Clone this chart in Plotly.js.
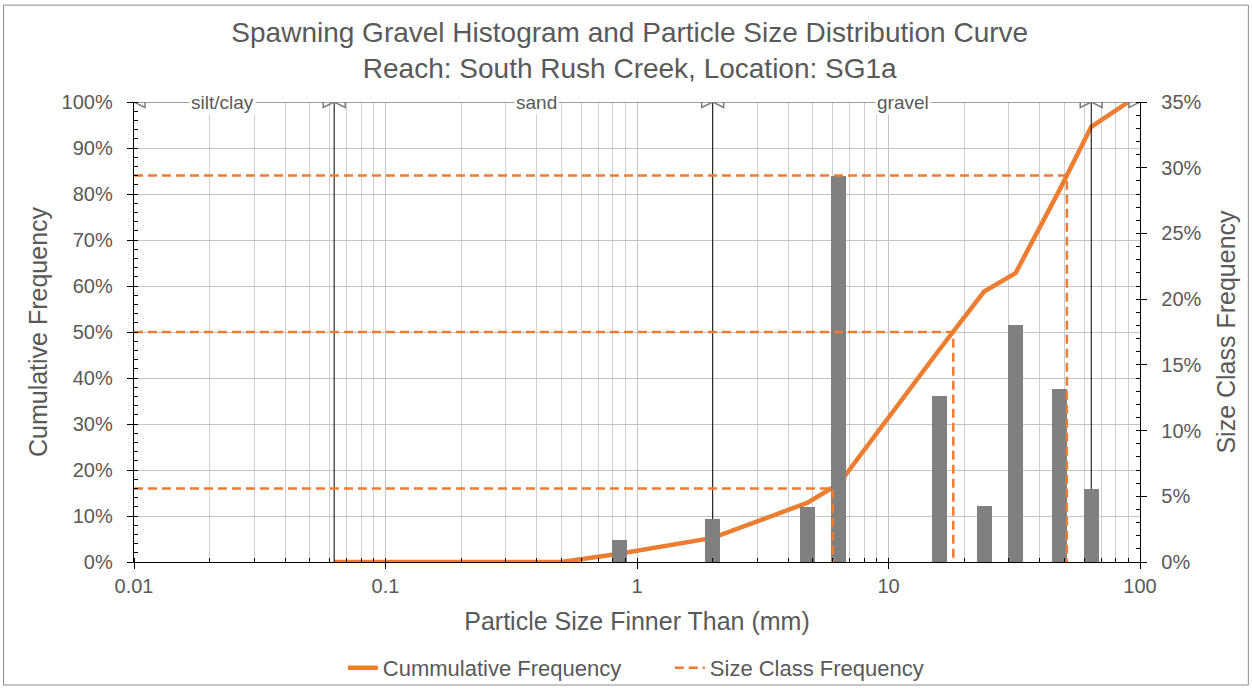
<!DOCTYPE html>
<html>
<head>
<meta charset="utf-8">
<script src="https://cdn.plot.ly/plotly-3.0.1.min.js"></script>
<style>
  html, body { margin: 0; padding: 0; background: #fff; }
  #chart { width: 1252px; height: 689px; }
</style>
</head>
<body>
<div id="chart"></div>
<script>
// ---- data ----
const CUM_SIZE = [0.0625, 0.5, 0.85, 2, 4.75, 6.35, 16, 24, 32, 48, 64, 90];
const CUM_PCT  = [0, 0, 1.8, 5.25, 12.85, 17, 46.3, 58.8, 62.8, 81, 94.6, 100];

const BAR_SIZE = [0.85, 2, 4.75, 6.35, 16, 24, 32, 48, 64];
const BAR_PCT  = [1.66, 3.28, 4.22, 29.37, 12.65, 4.24, 18.07, 13.16, 5.56];

const D_PCT  = [16, 50, 84];
const D_SIZE = [6.0, 18.1, 51.2];

const CLASS_BOUNDS = [0.01, 0.0625, 2, 64, 100];
const CLASS_LABELS = ['silt/clay', 'sand', 'gravel'];
const CLASS_LABEL_POS = [0.0225, 0.40, 11.4];

const X_TICKS = [0.01, 0.1, 1, 10, 100];
const X_TICK_TEXT = ['0.01', '0.1', '1', '10', '100'];

// ---- styles ----
const ORANGE = '#ED7D31';
const TXT = '#595959';
const FONT = 'Liberation Sans, Arial, sans-serif';

const traces = [];

// cumulative curve (main subplot, under bars)
traces.push({
  x: CUM_SIZE, y: CUM_PCT, type: 'scatter', mode: 'lines',
  name: 'Cummulative Frequency',
  line: { color: ORANGE, width: 4.5 },
  xaxis: 'x', yaxis: 'y', hoverinfo: 'x+y'
});

// class boundary lines (black)
[CLASS_BOUNDS[1], CLASS_BOUNDS[2], CLASS_BOUNDS[3]].forEach(b => {
  traces.push({
    x: [b, b], y: [0, 100], type: 'scatter', mode: 'lines',
    line: { color: '#000', width: 1 }, showlegend: false, hoverinfo: 'skip',
    xaxis: 'x', yaxis: 'y'
  });
});

// class arrows at top
for (let i = 0; i < CLASS_BOUNDS.length - 1; i++) {
  traces.push({
    x: [CLASS_BOUNDS[i], CLASS_BOUNDS[i + 1]], y: [100, 100],
    type: 'scatter', mode: 'lines+markers', cliponaxis: true,
    line: { color: '#7f7f7f', width: 1.5 },
    marker: { symbol: ['arrow-left-open', 'arrow-right-open'], size: 11,
              color: '#7f7f7f', line: { color: '#7f7f7f', width: 1.5 } },
    showlegend: false, hoverinfo: 'skip', xaxis: 'x', yaxis: 'y'
  });
}

// histogram bars (overlay subplot, on top of the curve)
traces.push({
  x: BAR_SIZE.map(v => Math.log10(v)), y: BAR_PCT, type: 'bar',
  width: 0.06, marker: { color: '#808080' },
  name: 'Size class', showlegend: false,
  xaxis: 'x2', yaxis: 'y2',
  customdata: BAR_SIZE, hovertemplate: '%{customdata} mm: %{y}%<extra></extra>'
});

// D16 / D50 / D84 dashed guides (overlay subplot, on top of bars)
D_PCT.forEach((p, i) => {
  traces.push({
    x: [0.01, D_SIZE[i], D_SIZE[i]], y: [p, p, 0],
    type: 'scatter', mode: 'lines',
    name: 'Size Class Frequency', legendgroup: 'd',
    showlegend: i === 0,
    line: { color: ORANGE, width: 2.5, dash: '9px,5px' },
    xaxis: 'x3', yaxis: 'y3'
  });
});

const annotations = CLASS_LABELS.map((t, i) => ({
  x: Math.log10(CLASS_LABEL_POS[i]), y: 100, xref: 'x', yref: 'y',
  text: t, showarrow: false, bgcolor: '#fff', borderpad: 1,
  font: { family: FONT, size: 19, color: TXT }
}));

const layout = {
  width: 1252, height: 689,
  margin: { l: 134, r: 112, t: 102, b: 127 },
  paper_bgcolor: '#fff', plot_bgcolor: '#fff',
  font: { family: FONT, color: TXT, size: 20 },
  title: {
    text: 'Spawning Gravel Histogram and Particle Size Distribution Curve<br>Reach: South Rush Creek, Location: SG1a',
    font: { family: FONT, size: 28, color: TXT },
    xref: 'container', x: 0.503, xanchor: 'center',
    yref: 'container', y: 0.939, yanchor: 'middle'
  },
  showlegend: true,
  legend: {
    orientation: 'h', xref: 'container', x: 0.535, xanchor: 'center',
    yref: 'container', y: 0.0305, yanchor: 'middle',
    bgcolor: 'rgba(0,0,0,0)', entrywidth: 282, entrywidthmode: 'pixels',
    font: { family: FONT, size: 22, color: TXT }
  },
  xaxis: {
    type: 'log', range: [-2, 2],
    tickvals: X_TICKS, ticktext: X_TICK_TEXT,
    ticks: 'outside', ticklen: 6, tickcolor: '#000', ticklabelstandoff: 0,
    showline: true, linecolor: '#000', linewidth: 1.3,
    showgrid: true, gridcolor: '#c4c4c4', gridwidth: 1,
    minor: { dtick: 'D1', showgrid: true, gridcolor: '#cfcfcf', gridwidth: 1,
             ticks: 'inside', ticklen: 4, tickcolor: '#000' },
    tickfont: { family: FONT, size: 20, color: TXT },
    title: { text: 'Particle Size Finner Than (mm)', standoff: 16,
             font: { family: FONT, size: 25, color: TXT } },
    zeroline: false
  },
  yaxis: {
    range: [0, 100], dtick: 10, ticksuffix: '%',
    ticks: 'outside', ticklen: 6, tickcolor: '#000', ticklabelstandoff: 10,
    showline: true, linecolor: '#000', linewidth: 1.3,
    showgrid: true, gridcolor: '#c4c4c4', gridwidth: 1,
    minor: { dtick: 2, ticks: 'inside', ticklen: 4, tickcolor: '#000', showgrid: false },
    tickfont: { family: FONT, size: 20, color: TXT },
    title: { text: 'Cumulative Frequency', standoff: 6,
             font: { family: FONT, size: 25, color: TXT } },
    zeroline: false
  },
  xaxis2: { overlaying: 'x', range: [-2, 2], visible: false, fixedrange: true },
  yaxis2: {
    overlaying: 'y', side: 'right', range: [0, 35], dtick: 5, ticksuffix: '%',
    ticks: 'outside', ticklen: 6, tickcolor: '#000', ticklabelstandoff: 10,
    showline: true, linecolor: '#000', linewidth: 1.3, showgrid: false,
    minor: { dtick: 1, ticks: 'inside', ticklen: 4, tickcolor: '#000', showgrid: false },
    tickfont: { family: FONT, size: 20, color: TXT },
    title: { text: 'Size Class Frequency', standoff: 17,
             font: { family: FONT, size: 25, color: TXT } },
    zeroline: false
  },
  xaxis3: { type: 'log', overlaying: 'x', range: [-2, 2], visible: false },
  yaxis3: { overlaying: 'y', range: [0, 100], visible: false },
  bargap: 0,
  annotations: annotations,
  shapes: [{
    type: 'rect', xref: 'paper', yref: 'paper',
    x0: -0.1297, x1: 1.1077, y0: -0.2674, y1: 1.2106,
    line: { color: '#8c8c8c', width: 1 }, fillcolor: 'rgba(0,0,0,0)', layer: 'below'
  }]
};

Plotly.newPlot('chart', traces, layout, { displayModeBar: false, staticPlot: true });
</script>
</body>
</html>
